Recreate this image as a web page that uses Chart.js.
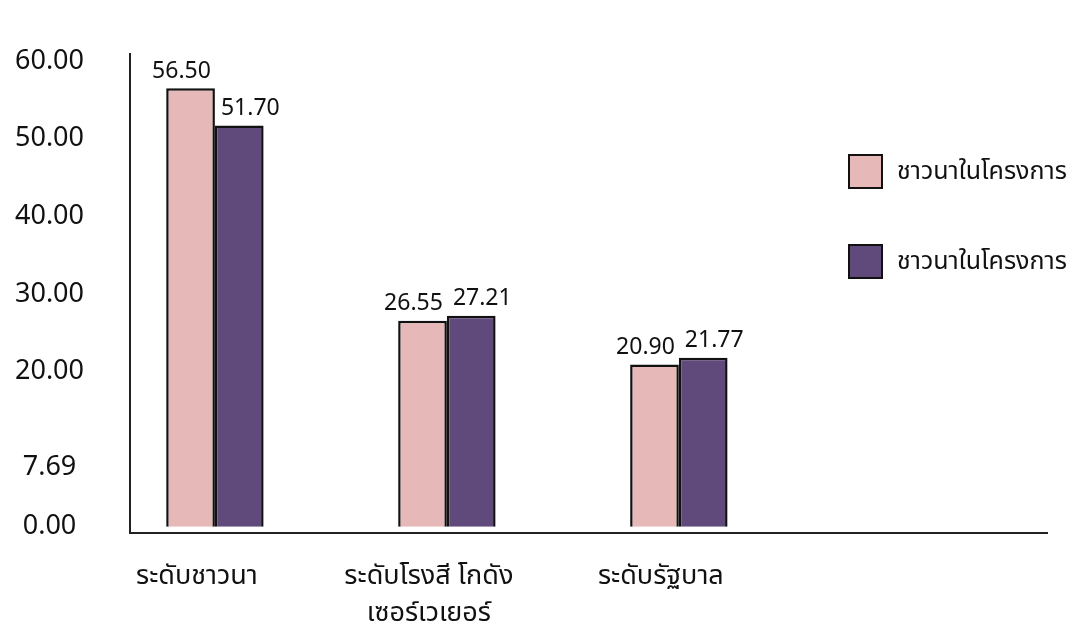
<!DOCTYPE html>
<html>
<head>
<meta charset="utf-8">
<script src="https://cdn.jsdelivr.net/npm/chart.js@4"></script>
<style>
  html, body { margin: 0; padding: 0; background: #fff; }
  #wrap { position: relative; width: 1074px; height: 625px; }
  #legend { position: absolute; left: 848px; top: 153px; font: 25px 'Noto Sans', 'Noto Sans Thai', sans-serif; color: #111; }
  #legend .item { display: flex; align-items: center; height: 36px; margin-bottom: 54px; }
  #legend .box { width: 31px; height: 31px; border: 2.5px solid #111; margin-right: 14px; }
</style>
</head>
<body>
<div id="wrap">
  <canvas id="c"></canvas>
  <div id="legend"></div>
</div>
<script>
// values
const categories = [['ระดับชาวนา'], ['ระดับโรงสี โกดัง', 'เซอร์เวเยอร์'], ['ระดับรัฐบาล']];
const seriesNames = ['ชาวนาในโครงการ', 'ชาวนาในโครงการ'];
const seriesA = [56.50, 26.55, 20.90];
const seriesB = [51.70, 27.21, 21.77];
const yTickValues = [0, 7.69, 20, 30, 40, 50, 60];

const FONT = "'Noto Sans', 'Noto Sans Thai', sans-serif";
const colours = ['#E6B9B8', '#604A7B'];

function toPoints(values) {
  return values.map((v, i) => ({ x: i, y: v }));
}

// value labels above each bar: first series hugs the bar's right edge,
// second series hugs the left edge so neighbours don't overlap
const valueLabels = {
  id: 'valueLabels',
  afterDatasetsDraw(chart) {
    const ctx = chart.ctx;
    ctx.save();
    ctx.fillStyle = '#111';
    ctx.font = `23px ${FONT}`;
    ctx.textBaseline = 'middle';
    chart.data.datasets.forEach((ds, di) => {
      chart.getDatasetMeta(di).data.forEach((bar, i) => {
        const half = bar.width / 2;
        ctx.textAlign = di === 0 ? 'right' : 'left';
        const x = di === 0 ? bar.x + half - 4 : bar.x - half + 6;
        ctx.fillText(ds.data[i].y.toFixed(2), x, bar.y - 17);
      });
    });
    ctx.restore();
  },
};

const datasets = [seriesA, seriesB].map((vals, i) => ({
  label: seriesNames[i],
  data: toPoints(vals),
  backgroundColor: colours[i],
  borderColor: '#111',
  borderWidth: 2.5,
  barPercentage: 1,
  categoryPercentage: 0.42,
}));

const chart = new Chart(document.getElementById('c'), {
  type: 'bar',
  data: { datasets },
  options: {
    responsive: true,
    maintainAspectRatio: false,
    animation: false,
    layout: { padding: { left: 0, right: 27, top: 52, bottom: 0 } },
    plugins: {
      legend: { display: false },
      tooltip: { enabled: false },
    },
    scales: {
      x: {
        type: 'linear',
        offset: false,
        min: -0.366,
        max: 3.587,
        grid: { display: false, offset: false },
        border: { display: true, color: '#222', width: 2 },
        afterBuildTicks: (s) => { s.ticks = categories.map((_, i) => ({ value: i })); },
        afterFit: (s) => { s.height = 92; },
        ticks: {
          color: '#111',
          font: { family: FONT, size: 27, lineHeight: 1.4 },
          padding: 16,
          labelOffset: -18,
          maxRotation: 0,
          autoSkip: false,
          callback: (v) => categories[v] || '',
        },
      },
      y: {
        min: -0.8,
        max: 60.9,
        grid: { display: false },
        border: { display: true, color: '#222', width: 2 },
        afterBuildTicks: (s) => { s.ticks = yTickValues.map((v) => ({ value: v })); },
        afterFit: (s) => { s.width = 130; },
        ticks: {
          color: '#111',
          font: { family: FONT, size: 27 },
          padding: 38,
          crossAlign: 'center',
          callback: (v) => Number(v).toFixed(2),
        },
      },
    },
  },
  plugins: [valueLabels],
});

// html legend built from the chart's own datasets
const legendEl = document.getElementById('legend');
chart.data.datasets.forEach((ds) => {
  const item = document.createElement('div');
  item.className = 'item';
  const box = document.createElement('span');
  box.className = 'box';
  box.style.background = ds.backgroundColor;
  const txt = document.createElement('span');
  txt.textContent = ds.label;
  item.appendChild(box);
  item.appendChild(txt);
  legendEl.appendChild(item);
});
</script>
</body>
</html>
